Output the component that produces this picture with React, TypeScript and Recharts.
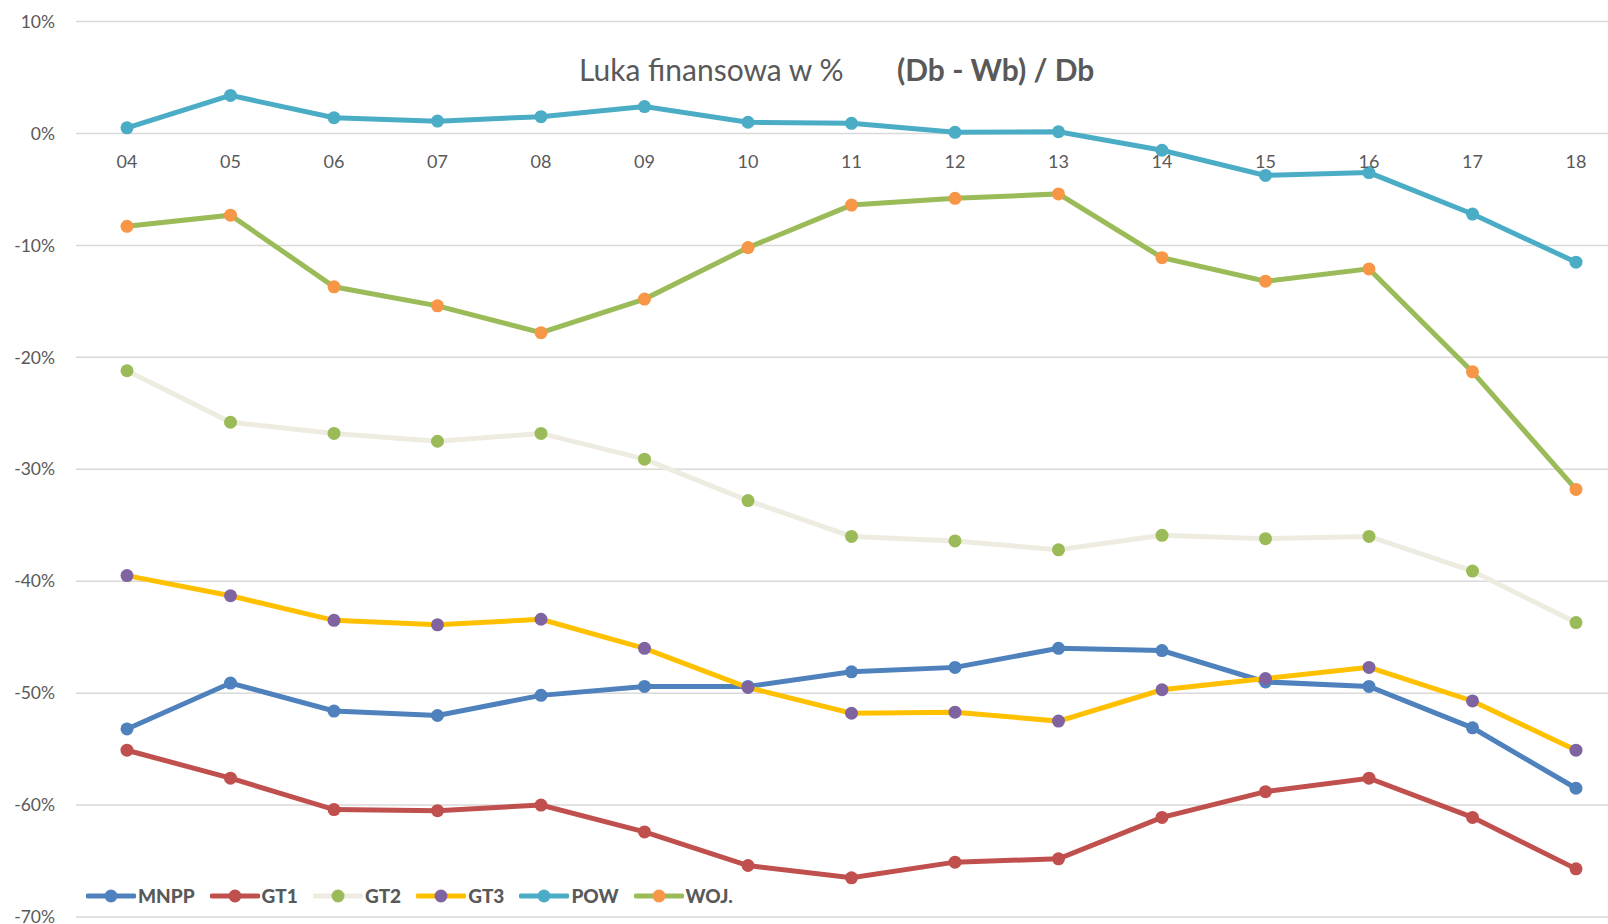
import { LineChart, Line, XAxis, YAxis, CartesianGrid, Legend } from 'recharts';

const years = ['04', '05', '06', '07', '08', '09', '10', '11', '12', '13', '14', '15', '16', '17', '18'];

const mnpp = [-53.2, -49.1, -51.6, -52.0, -50.2, -49.4, -49.4, -48.1, -47.7, -46.0, -46.2, -49.0, -49.4, -53.1, -58.5];
const gt1 = [-55.1, -57.6, -60.4, -60.5, -60.0, -62.4, -65.4, -66.5, -65.1, -64.8, -61.1, -58.8, -57.6, -61.1, -65.7];
const gt2 = [-21.2, -25.8, -26.8, -27.5, -26.8, -29.1, -32.8, -36.0, -36.4, -37.2, -35.9, -36.2, -36.0, -39.1, -43.7];
const gt3 = [-39.5, -41.3, -43.5, -43.9, -43.4, -46.0, -49.5, -51.8, -51.7, -52.5, -49.7, -48.7, -47.7, -50.7, -55.1];
const pow = [0.5, 3.4, 1.4, 1.1, 1.5, 2.4, 1.0, 0.9, 0.1, 0.15, -1.5, -3.75, -3.5, -7.2, -11.5];
const woj = [-8.3, -7.3, -13.7, -15.4, -17.8, -14.8, -10.2, -6.4, -5.8, -5.4, -11.1, -13.2, -12.1, -21.3, -31.8];

const yTicks = [10, 0, -10, -20, -30, -40, -50, -60, -70];

const series = [
  { name: 'MNPP', values: mnpp, line: '#4F81BD', dot: '#4F81BD' },
  { name: 'GT1', values: gt1, line: '#C0504D', dot: '#C0504D' },
  { name: 'GT2', values: gt2, line: '#EEECE1', dot: '#9BBB59' },
  { name: 'GT3', values: gt3, line: '#FFC000', dot: '#8064A2' },
  { name: 'POW', values: pow, line: '#4BACC6', dot: '#4BACC6' },
  { name: 'WOJ.', values: woj, line: '#9BBB59', dot: '#F79646' },
];

const data = years.map((year, i) => {
  const row: Record<string, string | number> = { year };
  series.forEach((s) => {
    row[s.name] = s.values[i];
  });
  return row;
});

const W = 1608;
const H = 924;
const TOP = 21.5;
const BOTTOM = 6;
const XAXIS_H = 1;
const FONT = 'Lato, "Open Sans", sans-serif';
const GREY = '#595959';

// zero line position, labels of the category axis sit right under it
const zeroY = TOP + ((H - TOP - BOTTOM - XAXIS_H) * 10) / 80;

const renderXTick = (props: any) => {
  const { x, payload } = props;
  return (
    <text x={x} y={zeroY + 35} textAnchor="middle" fill={GREY} fontSize={18} fontFamily={FONT}>
      {payload.value}
    </text>
  );
};

const LegendContent = () => (
  <div style={{ display: 'flex', alignItems: 'center', gap: 15, fontFamily: FONT }}>
    {series.map((s) => (
      <div key={s.name} style={{ display: 'flex', alignItems: 'center' }}>
        <svg width={50} height={14}>
          <line x1={2} y1={7} x2={48} y2={7} stroke={s.line} strokeWidth={5} strokeLinecap="round" />
          <circle cx={25} cy={7} r={6.5} fill={s.dot} />
        </svg>
        <span style={{ marginLeft: 2, fontSize: 19, fontWeight: 900, color: GREY, lineHeight: '20px' }}>{s.name}</span>
      </div>
    ))}
  </div>
);

export default function App() {
  return (
    <div style={{ position: 'absolute', left: 0, top: 0, width: W, height: H, background: '#fff' }}>
      <LineChart width={W} height={H} data={data} margin={{ top: TOP, right: 0, left: 0, bottom: BOTTOM }}>
        <CartesianGrid vertical={false} stroke="#D9D9D9" strokeWidth={1.5} />
        <XAxis
          dataKey="year"
          height={XAXIS_H}
          axisLine={false}
          tickLine={false}
          interval={0}
          padding={{ left: 51, right: 32 }}
          tick={renderXTick}
        />
        <YAxis
          width={76}
          domain={[-70, 10]}
          ticks={yTicks}
          interval={0}
          axisLine={false}
          tickLine={false}
          tickMargin={15}
          tickFormatter={(v: number) => `${v}%`}
          tick={{ fill: GREY, fontSize: 17.5, fontFamily: FONT }}
        />
        {series.map((s) => (
          <Line
            key={s.name}
            type="linear"
            dataKey={s.name}
            stroke={s.line}
            strokeWidth={5}
            dot={{ r: 6.5, fill: s.dot, stroke: s.dot, strokeWidth: 0 }}
            activeDot={false}
            isAnimationActive={false}
          />
        ))}
        <Legend
          layout="horizontal"
          verticalAlign="middle"
          align="center"
          content={<LegendContent />}
          wrapperStyle={{ left: 86, top: 886, width: 'auto', height: 'auto' }}
        />
        <text x={579} y={81} fill={GREY} fontSize={30} fontFamily={FONT}>
          Luka finansowa w %
        </text>
        <text x={897} y={81} fill={GREY} fontSize={30} fontWeight={700} fontFamily={FONT}>
          (Db - Wb) / Db
        </text>
      </LineChart>
    </div>
  );
}
